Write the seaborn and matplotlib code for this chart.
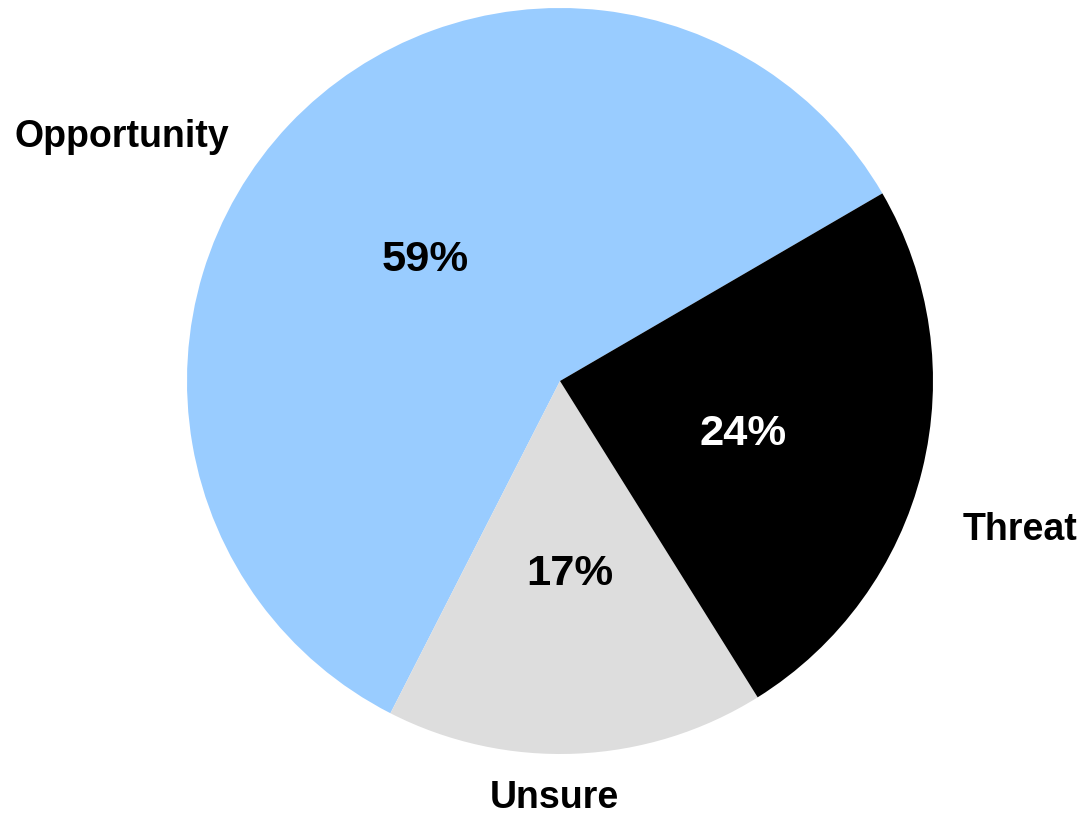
import matplotlib
matplotlib.use("Agg")
import matplotlib.pyplot as plt
import seaborn as sns

sns.set_theme(style="white")
plt.rcParams['font.family'] = ['Liberation Sans', 'DejaVu Sans']

categories = ["Opportunity", "Unsure", "Threat"]
values = [59.1, 16.4, 24.5]          # slice sizes as drawn
pct_labels = ["59%", "17%", "24%"]   # labels as printed
colors = ["#99CCFF", "#DDDDDD", "#000000"]
pct_colors = ["black", "black", "white"]

# label anchor positions (data units, pie radius = 1)
label_pos = [(-1.174, 0.628), (-0.015, -1.145), (1.233, -0.426)]
pct_pos = [(-0.361, 0.295), (0.027, -0.547), (0.491, -0.172)]

fig = plt.figure(figsize=(10.84, 8.18), dpi=100)
ax = fig.add_axes([0, 0, 1, 1])
wedges, texts = ax.pie(
    values, labels=categories, colors=colors, startangle=30.2,
    counterclock=True,
    wedgeprops=dict(linewidth=0, edgecolor="none"),
)
for t, pos in zip(texts, label_pos):
    t.set_position(pos)
    t.set_ha("center"); t.set_va("baseline")
    t.set_fontsize(27); t.set_fontweight("bold"); t.set_color("black")
for lab, pos, c in zip(pct_labels, pct_pos, pct_colors):
    ax.text(pos[0], pos[1], lab, ha="center", va="baseline",
            fontsize=31.3, fontweight="bold", color=c)

ax.set_aspect("auto")
ax.set_xlim(-560 / 373, (1084 - 560) / 373)
ax.set_ylim(-(818 - 381) / 373, 381 / 373)
ax.axis("off")
fig.savefig("out.png", dpi=100, facecolor="white")
